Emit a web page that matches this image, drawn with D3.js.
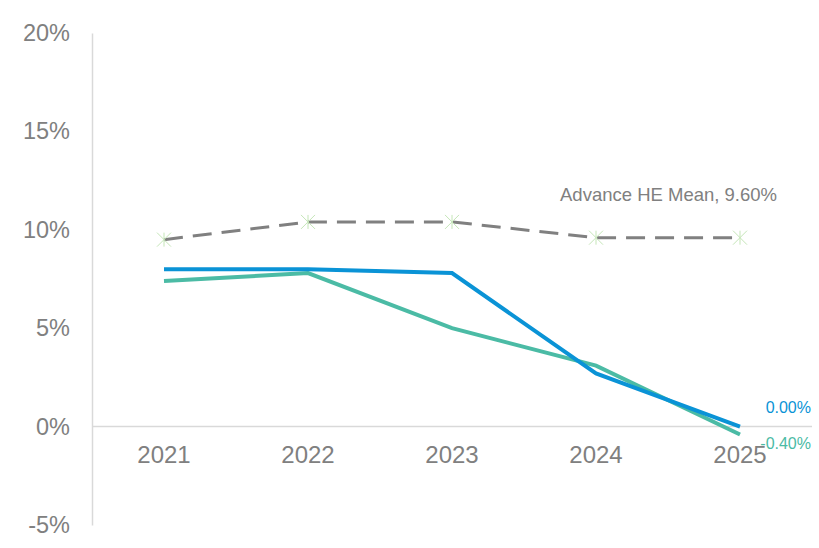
<!DOCTYPE html>
<html><head><meta charset="utf-8">
<script src="https://cdn.jsdelivr.net/npm/d3@7"></script>
<style>body{margin:0;background:#fff;} text{font-family:Arial,"Liberation Sans",sans-serif;}</style>
</head><body>
<svg id="chart" width="819" height="548"></svg>
<script>
const years = ["2021","2022","2023","2024","2025"];
const blueValues = [8.0, 8.0, 7.8, 2.7, 0.0];
const tealValues = [7.4, 7.8, 5.0, 3.1, -0.4];
const meanValues = [9.5, 10.4, 10.4, 9.6, 9.6];
const yTicks = [-5, 0, 5, 10, 15, 20];
const meanLabel = "Advance HE Mean, 9.60%";
const blueLabel = "0.00%";
const tealLabel = "-0.40%";

const svg = d3.select("#chart");
const x = d3.scaleBand().domain(years).range([92, 812]);
const y = d3.scaleLinear().domain([-5, 20]).range([525, 33]);
const cx = d => x(d) + x.bandwidth() / 2;

// y axis
const yAxis = svg.append("g").attr("transform", "translate(92,0)")
  .call(d3.axisLeft(y).tickValues(yTicks).tickSize(0).tickPadding(22).tickFormat(d => d + "%"));
yAxis.select(".domain").attr("stroke", "#d9d9d9").attr("stroke-width", 1.5);
yAxis.selectAll("text").attr("fill", "#808080").attr("font-size", "23.5px");

// zero line
svg.append("line").attr("x1", 92).attr("x2", 812).attr("y1", y(0)).attr("y2", y(0))
  .attr("stroke", "#d9d9d9").attr("stroke-width", 1.5);

// x axis labels
const xAxis = svg.append("g").attr("transform", `translate(0,${y(0)})`)
  .call(d3.axisBottom(x).tickSize(0).tickPadding(19));
xAxis.select(".domain").remove();
xAxis.selectAll("text").attr("fill", "#808080").attr("font-size", "24px");

const line = d3.line().x((d, i) => cx(years[i])).y(d => y(d));

svg.append("path").datum(meanValues).attr("d", line).attr("fill", "none")
  .attr("stroke", "#808080").attr("stroke-width", 3).attr("stroke-dasharray", "19,10");

svg.append("path").datum(tealValues).attr("d", line).attr("fill", "none")
  .attr("stroke", "#4bbba5").attr("stroke-width", 4);
svg.append("path").datum(blueValues).attr("d", line).attr("fill", "none")
  .attr("stroke", "#0a93d6").attr("stroke-width", 4);

// star markers on mean
meanValues.forEach((v, i) => {
  const g = svg.append("g").attr("transform", `translate(${cx(years[i])},${y(v)})`);
  const r = 7;
  [[-r,-r,r,r],[-r,r,r,-r],[0,-r,0,r]].forEach(s => {
    g.append("line").attr("x1", s[0]).attr("y1", s[1]).attr("x2", s[2]).attr("y2", s[3])
      .attr("stroke", "#c5e6b8").attr("stroke-width", 1);
  });
});

// labels
svg.append("text").attr("x", 777).attr("y", 201).attr("text-anchor", "end")
  .attr("fill", "#808080").attr("font-size", "18.5px").text(meanLabel);
svg.append("text").attr("x", 811).attr("y", 413).attr("text-anchor", "end")
  .attr("fill", "#0a93d6").attr("font-size", "16px").text(blueLabel);
svg.append("text").attr("x", 811).attr("y", 449).attr("text-anchor", "end")
  .attr("fill", "#4bbba5").attr("font-size", "16px").text(tealLabel);
</script>
</body></html>
